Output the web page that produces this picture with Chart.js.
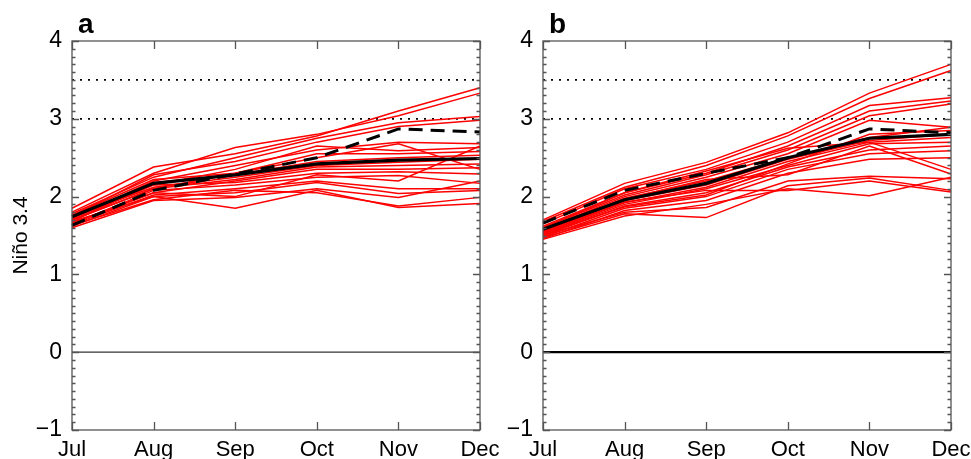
<!DOCTYPE html>
<html>
<head>
<meta charset="utf-8">
<script src="https://cdn.jsdelivr.net/npm/chart.js@4.4.1/dist/chart.umd.min.js"></script>
<style>
  body { margin: 0; background: #fff; }
  #wrap { position: relative; width: 971px; height: 459px; overflow: hidden; }
  canvas { position: absolute; top: 0; }
  #panelA { left: 0; }
  #panelB { left: 490px; }
</style>
</head>
<body>
<div id="wrap">
  <canvas id="panelA" width="520" height="459"></canvas>
  <canvas id="panelB" width="520" height="459"></canvas>
</div>
<script>
const months = ['Jul', 'Aug', 'Sep', 'Oct', 'Nov', 'Dec'];
const yTicks = [-1, 0, 1, 2, 3, 4];
const thresholds = [3.0, 3.5];

// panel a: ensemble mean, observed, members
const meanA = [1.74, 2.17, 2.28, 2.42, 2.47, 2.49];
const obsA  = [1.63, 2.08, 2.29, 2.50, 2.87, 2.83];
const membersA = [
  [1.85, 2.38, 2.55, 2.78, 3.10, 3.40],
  [1.80, 2.30, 2.63, 2.80, 3.04, 3.33],
  [1.78, 2.25, 2.50, 2.75, 2.95, 3.03],
  [1.75, 2.28, 2.45, 2.70, 2.90, 2.98],
  [1.72, 2.20, 2.40, 2.60, 2.70, 2.68],
  [1.70, 2.15, 2.35, 2.65, 2.59, 2.63],
  [1.76, 2.22, 2.30, 2.55, 2.55, 2.58],
  [1.68, 2.18, 2.28, 2.45, 2.50, 2.53],
  [1.74, 2.12, 2.25, 2.40, 2.44, 2.48],
  [1.70, 2.10, 2.22, 2.38, 2.40, 2.42],
  [1.66, 2.05, 2.20, 2.35, 2.35, 2.37],
  [1.72, 2.15, 2.18, 2.30, 2.32, 2.29],
  [1.65, 2.08, 2.15, 2.25, 2.27, 2.17],
  [1.64, 2.02, 2.10, 2.20, 2.10, 2.10],
  [1.62, 2.00, 2.05, 2.18, 2.04, 2.08],
  [1.60, 1.95, 1.99, 2.10, 1.99, 2.20],
  [1.68, 2.00, 1.85, 2.08, 1.86, 1.91],
  [1.63, 1.96, 2.08, 2.05, 1.88, 1.99],
  [1.70, 2.10, 2.30, 2.50, 2.68, 2.35],
  [1.66, 2.05, 2.00, 2.28, 2.20, 2.65]
];

// panel b
const meanB = [1.58, 1.96, 2.17, 2.50, 2.75, 2.80];
const obsB  = [1.66, 2.08, 2.30, 2.50, 2.87, 2.82];
const membersB = [
  [1.70, 2.17, 2.44, 2.82, 3.33, 3.70],
  [1.68, 2.12, 2.40, 2.78, 3.26, 3.62],
  [1.65, 2.10, 2.35, 2.70, 3.17, 3.27],
  [1.62, 2.05, 2.30, 2.65, 3.10, 3.23],
  [1.60, 2.02, 2.28, 2.60, 3.04, 3.19],
  [1.58, 2.00, 2.25, 2.55, 2.98, 2.89],
  [1.56, 1.98, 2.20, 2.50, 2.76, 2.89],
  [1.55, 1.95, 2.15, 2.48, 2.72, 2.80],
  [1.53, 1.92, 2.12, 2.45, 2.70, 2.76],
  [1.52, 1.90, 2.10, 2.40, 2.68, 2.70],
  [1.50, 1.88, 2.05, 2.38, 2.60, 2.65],
  [1.48, 1.85, 2.00, 2.35, 2.55, 2.59],
  [1.46, 1.82, 1.95, 2.30, 2.48, 2.50],
  [1.57, 1.97, 2.22, 2.28, 2.65, 2.29],
  [1.50, 1.80, 1.86, 2.20, 2.26, 2.23],
  [1.47, 1.78, 1.73, 2.14, 2.24, 2.08],
  [1.45, 1.75, 1.90, 2.10, 2.01, 2.25],
  [1.54, 1.93, 2.08, 2.08, 2.20, 2.06],
  [1.60, 2.05, 2.33, 2.62, 2.70, 2.35],
  [1.52, 1.87, 2.02, 2.42, 2.80, 2.85]
];

const fontFamily = '"Liberation Sans", Arial, Helvetica, sans-serif';

function buildDatasets(mean, obs, members, zeroColor, zeroWidth) {
  const flat = v => months.map(() => v);
  // index 0 ends up on top
  const sets = [
    { data: obs, borderColor: '#000', borderWidth: 3, borderDash: [14, 8] },
    { data: mean, borderColor: '#000', borderWidth: 3.2 }
  ];
  members.forEach(m => sets.push({ data: m, borderColor: '#ff0000', borderWidth: 1.5 }));
  thresholds.forEach(t => sets.push({ data: flat(t), borderColor: '#000', borderWidth: 1.8, borderDash: [2, 6] }));
  sets.push({ data: flat(0), borderColor: zeroColor, borderWidth: zeroWidth });
  return sets;
}

// box, inward ticks and panel letter
const frame = {
  id: 'frame',
  afterDatasetsDraw(chart, args, opts) {
    const { ctx, chartArea: a, scales: { x, y } } = chart;
    ctx.save();
    ctx.strokeStyle = '#555';
    ctx.lineWidth = 1.3;
    ctx.strokeRect(a.left, a.top, a.right - a.left, a.bottom - a.top);
    ctx.beginPath();
    for (let k = -10; k <= 40; k++) {
      const py = Math.round(y.getPixelForValue(k / 10)) + 0.5;
      const len = k % 10 === 0 ? 7 : 3.5;
      ctx.moveTo(a.left, py); ctx.lineTo(a.left + len, py);
      ctx.moveTo(a.right, py); ctx.lineTo(a.right - len, py);
    }
    months.forEach((m, i) => {
      const px = Math.round(x.getPixelForValue(i)) + 0.5;
      ctx.moveTo(px, a.top); ctx.lineTo(px, a.top + 8);
      ctx.moveTo(px, a.bottom); ctx.lineTo(px, a.bottom - 8);
    });
    ctx.stroke();
    ctx.fillStyle = '#000';
    ctx.font = 'bold 28px ' + fontFamily;
    ctx.fillText(opts.letter, a.left + 6, a.top - 8);
    ctx.restore();
  }
};

function makePanel(id, letter, axisWidth, padRight, withTitle, mean, obs, members, zeroColor, zeroWidth) {
  return new Chart(document.getElementById(id), {
    type: 'line',
    data: { labels: months, datasets: buildDatasets(mean, obs, members, zeroColor, zeroWidth) },
    options: {
      responsive: false,
      animation: false,
      layout: { padding: { top: 41, right: padRight, left: 0, bottom: 0 } },
      elements: { point: { radius: 0 }, line: { tension: 0, fill: false } },
      plugins: { legend: { display: false }, tooltip: { enabled: false }, frame: { letter: letter } },
      scales: {
        x: {
          type: 'category',
          offset: false,
          afterFit(s) { s.height = 29; },
          grid: { display: false, drawTicks: false },
          border: { display: false },
          ticks: { color: '#000', padding: 7, maxRotation: 0, autoSkip: false,
                   font: { size: 22, family: fontFamily } }
        },
        y: {
          min: -1, max: 4,
          afterFit(s) { s.width = axisWidth; },
          afterBuildTicks(s) { s.ticks = yTicks.map(v => ({ value: v })); },
          grid: { display: false, drawTicks: false },
          border: { display: false },
          ticks: { color: '#000', padding: 10, font: { size: 23, family: fontFamily },
                   callback: v => v < 0 ? '\u2212' + Math.abs(v) : String(v) },
          title: { display: withTitle, text: 'Niño 3.4', color: '#000',
                   padding: { top: 9, bottom: 0 }, font: { size: 21, family: fontFamily } }
        }
      }
    },
    plugins: [frame]
  });
}

// canvases are wider than their slots; padding keeps the plot edges at x=480 and x=951
makePanel('panelA', 'a', 72, 40, true, meanA, obsA, membersA, '#333', 1.3);
makePanel('panelB', 'b', 53, 59, false, meanB, obsB, membersB, '#000', 2.2);
</script>
</body>
</html>
